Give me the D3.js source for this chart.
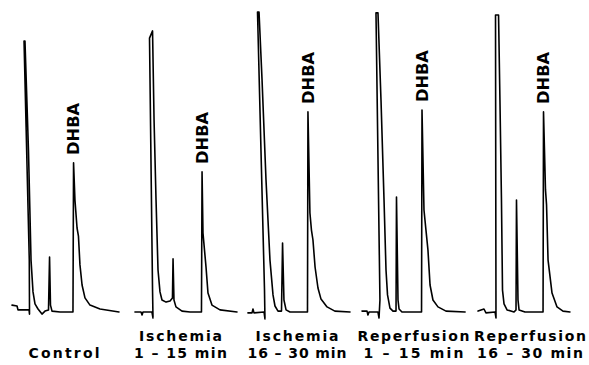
<!DOCTYPE html>
<html>
<head>
<meta charset="utf-8">
<script src="https://cdn.jsdelivr.net/npm/d3@7"></script>
<style>
  html, body { margin: 0; padding: 0; background: #fff; }
  svg { display: block; }
  .trace { fill: none; stroke: #000; stroke-width: 1.6; stroke-linejoin: round; stroke-linecap: round; }
  .lbl { font-family: "DejaVu Sans", "Liberation Sans", sans-serif; font-weight: bold; fill: #000; }
</style>
</head>
<body>
<div id="chart"></div>
<script>
// conditions (one chromatogram each)
const conditions = ["Control", "Ischemia 1-15", "Ischemia 16-30", "Reperfusion 1-15", "Reperfusion 16-30"];
const labelLine1 = ["", "Ischemia", "Ischemia", "Reperfusion", "Reperfusion"];
const labelLine2 = ["Control", "1 \u2013 15 min", "16 \u2013 30 min", "1 \u2013 15 min", "16 \u2013 30 min"];

// retention time of the DHBA peak (min)
const dhbaRT = [5.82, 6.85, 5.94, 5.73, 6.16];

// detector traces: [time (min), response (% full scale)]
const controlTrace = [
  [0.54, 2.3], [0.97, 2.0], [1.05, 0.7], [2.00, 0.7], [2.04, -0.7], [2.02, 17.3],
  [1.57, 90.3], [1.65, 90.3], [1.95, 54.0], [2.17, 17.3], [2.34, 6.7], [2.51, 2.7],
  [2.77, 1.0], [3.11, -0.7], [3.37, 0.3], [3.67, 0.7], [3.76, 18.3], [3.84, 2.3],
  [3.97, 0.3], [4.66, 0], [5.77, 0], [5.82, 49.7], [5.94, 37.3], [6.12, 28.0],
  [6.24, 25.3], [6.37, 15.7], [6.55, 9.0], [6.80, 4.7], [7.23, 2.3], [8.09, 1.0], [9.72, 0]
];
const isch1Trace = [
  [1.09, 0], [1.61, 0], [1.70, -1.0], [1.78, 0], [2.55, 0], [2.64, -2.0], [2.60, 7.3],
  [2.34, 91.3], [2.60, 93.7], [2.73, 64.0], [2.90, 37.3], [3.07, 14.0], [3.24, 6.7],
  [3.41, 4.0], [3.76, 3.3], [4.10, 3.7], [4.31, 4.7], [4.36, 17.7], [4.44, 4.0],
  [4.61, 1.7], [5.13, 0.3], [5.82, 0], [6.80, 0], [6.85, 46.7], [6.93, 26.3],
  [7.19, 15.0], [7.36, 6.3], [7.70, 2.3], [8.39, 0.7], [9.85, 0]
];
const isch2Trace = [
  [0.79, -0.3], [1.14, -0.3], [1.22, 1.0], [1.31, -0.3], [2.17, 0], [2.25, -2.3], [2.21, 7.3],
  [1.61, 100], [1.74, 100], [2.00, 77.3], [2.34, 44.0], [2.68, 17.3], [2.94, 5.7],
  [3.11, 2.0], [3.37, 0.3], [3.67, 0.3], [3.76, 23.0], [3.88, 4.0], [4.06, 0.7],
  [4.40, 0], [5.90, 0], [5.94, 66.7], [6.11, 33.0], [6.24, 27.3], [6.37, 24.0],
  [6.55, 15.0], [6.80, 8.0], [7.06, 4.3], [7.58, 1.7], [8.25, 0.3], [9.55, 0]
];
const rep1Trace = [
  [0.58, 0.3], [1.01, 0.3], [1.09, -1.0], [1.18, 0], [1.95, 0], [2.04, -2.0], [2.12, 4.0],
  [1.78, 99.7], [1.95, 99.7], [2.21, 70.7], [2.47, 37.3], [2.64, 14.0], [2.77, 5.7],
  [2.98, 1.3], [3.24, 0.3], [3.50, 0.3], [3.54, 38.3], [3.67, 4.0], [3.76, 1.0],
  [4.01, 0], [5.69, 0], [5.73, 67.3], [5.90, 34.0], [6.07, 27.3], [6.24, 20.7],
  [6.42, 9.0], [6.67, 4.0], [7.10, 1.7], [7.79, 0.3], [9.43, 0]
];
const rep2Trace = [
  [0.54, 0.3], [1.05, 1.0], [1.22, -0.3], [2.00, 0], [2.08, -2.0], [2.04, 99.0],
  [2.30, 99.0], [2.42, 70.7], [2.55, 37.3], [2.64, 7.3], [2.77, 2.7], [3.03, 0.7],
  [3.63, 0], [3.80, 0.7], [3.84, 37.3], [3.97, 4.0], [4.06, 0.7], [4.57, 0],
  [6.12, 0], [6.16, 66.7], [6.33, 40.7], [6.42, 35.7], [6.55, 17.3], [6.89, 6.3],
  [7.32, 1.7], [7.83, 0.3], [8.43, 0]
];
const traces = [controlTrace, isch1Trace, isch2Trace, rep1Trace, rep2Trace];

const width = 589, height = 365;

const svg = d3.select("#chart").append("svg")
  .attr("width", width)
  .attr("height", height);

const panel = d3.scaleBand().domain(conditions).range([5.75, 588.25]).padding(0);
const x = d3.scaleLinear().domain([0, 10]).range([0, panel.bandwidth()]);
const y = d3.scaleLinear().domain([0, 100]).range([312, 12]);

const line = d3.line()
  .x(d => x(d[0]))
  .y(d => y(d[1]));

const g = svg.selectAll("g.panel")
  .data(conditions)
  .enter()
  .append("g")
  .attr("class", "panel")
  .attr("transform", d => "translate(" + panel(d) + ",0)");

g.append("path")
  .attr("class", "trace")
  .attr("d", (d, i) => line(traces[i]));

// DHBA label sits just above its peak
g.append("text")
  .attr("class", "lbl")
  .style("font-size", "16px")
  .attr("textLength", 52)
  .attr("lengthAdjust", "spacingAndGlyphs")
  .attr("dy", "0.36em")
  .attr("transform", (d, i) => {
    const pk = traces[i]
      .filter(p => Math.abs(p[0] - dhbaRT[i]) < 0.3)
      .reduce((a, b) => (b[1] > a[1] ? b : a));
    return "translate(" + x(pk[0]) + "," + (y(pk[1]) - 8) + ") rotate(-90)";
  })
  .text("DHBA");

// condition labels under each trace
const lw1 = [0, 83, 83, 112, 112];
const lw2 = [71, 93, 99, 100, 106];

g.append("text")
  .attr("class", "lbl")
  .style("font-size", "14px")
  .attr("text-anchor", "middle")
  .attr("x", panel.bandwidth() / 2)
  .attr("y", 341)
  .each(function(d, i) {
    if (labelLine1[i]) d3.select(this).attr("textLength", lw1[i]).attr("lengthAdjust", "spacing");
  })
  .text((d, i) => labelLine1[i]);

g.append("text")
  .attr("class", "lbl")
  .style("font-size", "14px")
  .attr("text-anchor", "middle")
  .attr("x", panel.bandwidth() / 2)
  .attr("y", 358)
  .attr("textLength", (d, i) => lw2[i])
  .attr("lengthAdjust", "spacing")
  .text((d, i) => labelLine2[i]);
</script>
</body>
</html>
